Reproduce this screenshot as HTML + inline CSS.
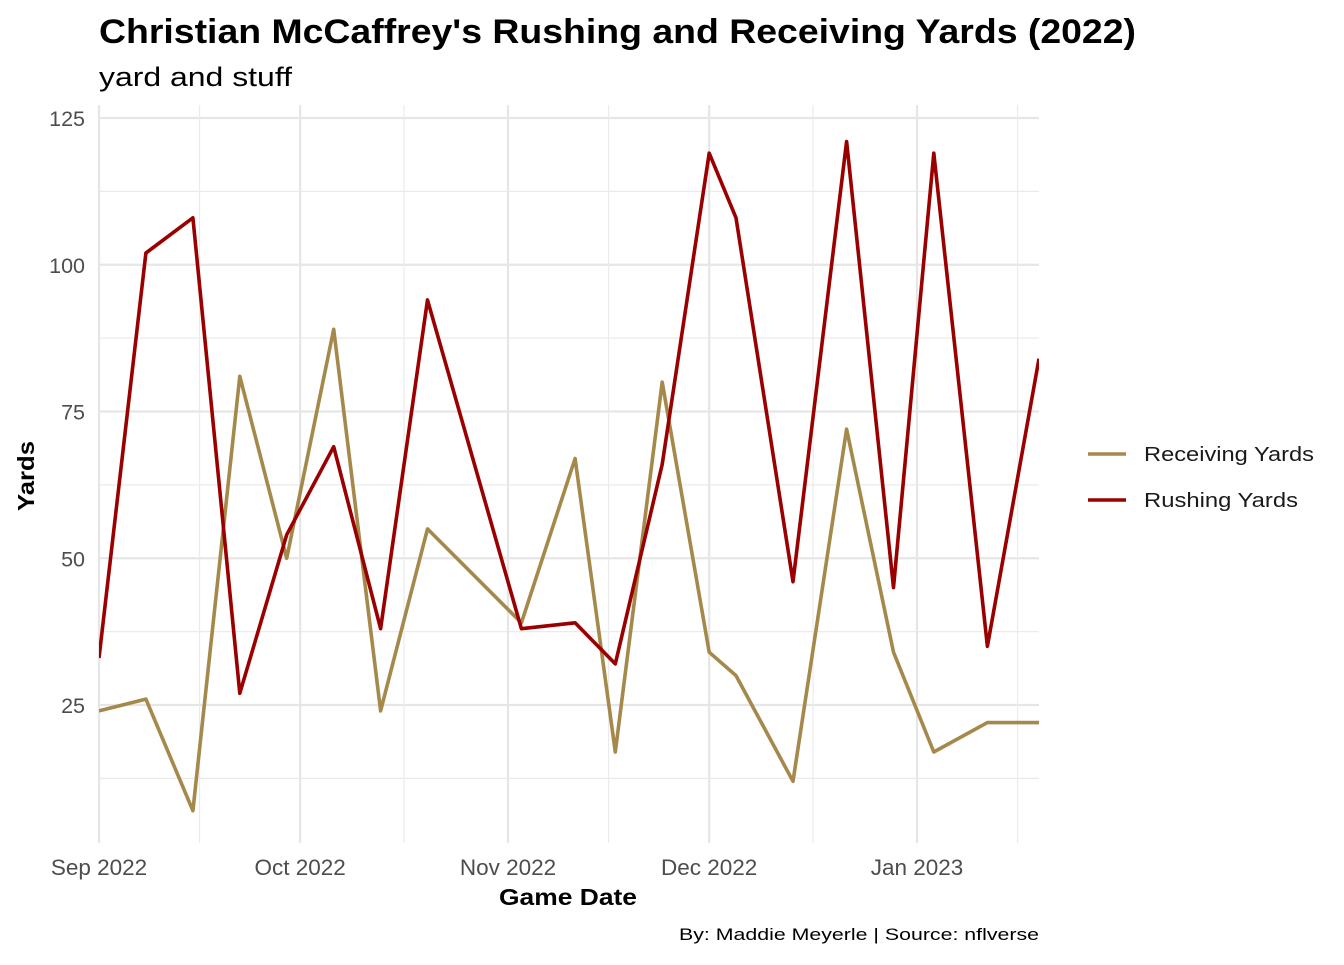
<!DOCTYPE html>
<html><head><meta charset="utf-8"><style>
body{margin:0;background:#fff;font-family:"Liberation Sans",Arial,sans-serif;}
svg text{font-family:"Liberation Sans",Arial,sans-serif;}
</style></head><body>
<svg id="chart" width="1344" height="960" xmlns="http://www.w3.org/2000/svg">
<text x="99" y="43" font-size="34" font-weight="bold" fill="#000" textLength="1037" lengthAdjust="spacingAndGlyphs">Christian McCaffrey's Rushing and Receiving Yards (2022)</text>
<text x="99" y="86" font-size="27" fill="#000" textLength="193" lengthAdjust="spacingAndGlyphs">yard and stuff</text>
<defs><clipPath id="pc"><rect x="99" y="100" width="940" height="745"/></clipPath></defs>
<g id="grid"></g>
<g id="axes"></g>
<g id="lines" clip-path="url(#pc)"></g>
<text x="568" y="905" font-size="23" font-weight="bold" text-anchor="middle" textLength="138" lengthAdjust="spacingAndGlyphs">Game Date</text>
<text transform="translate(34,476) rotate(-90)" font-size="23" font-weight="bold" text-anchor="middle" textLength="70" lengthAdjust="spacingAndGlyphs">Yards</text>
<text x="1039" y="940" font-size="17" text-anchor="end" textLength="360" lengthAdjust="spacingAndGlyphs">By: Maddie Meyerle | Source: nflverse</text>
<g>
<g>
<line x1="1088" y1="454" x2="1126" y2="454" stroke="#A5894B" stroke-width="3.5"/>
<text x="1144" y="461" font-size="20" fill="#1a1a1a" textLength="170" lengthAdjust="spacingAndGlyphs">Receiving Yards</text></g>
<g>
<line x1="1088" y1="500" x2="1126" y2="500" stroke="#9B0000" stroke-width="3.5"/>
<text x="1144" y="507" font-size="20" fill="#1a1a1a" textLength="154" lengthAdjust="spacingAndGlyphs">Rushing Yards</text></g>
</g>
</svg>
<script>
const gameDays = [0,7,14,21,28,35,42,49,63,71,77,84,91,95,103.5,111.5,118.5,124.5,132.5,140.2];
const rushingYards = [33,102,108,27,54,69,38,94,38,39,32,66,119,108,46,121,45,119,35,84];
const receivingYards = [24,26,7,81,50,89,24,55,39,67,17,80,34,30,12,72,34,17,22,22];
const yTicks = [25,50,75,100,125];
const xTickLabels = ["Sep 2022","Oct 2022","Nov 2022","Dec 2022","Jan 2023"];
const xTickDays = [0,30,61,91,122];
const xMinorDays = [15,45.5,76,106.5,137];

const svgNS="http://www.w3.org/2000/svg";
const X0=99,PX_PER_DAY=6.705;
const xs=d=>X0+d*PX_PER_DAY;
const ys=v=>851.75-v*5.87;
const gridG=document.getElementById('grid'),axesG=document.getElementById('axes'),linesG=document.getElementById('lines');
function mk(tag,attrs,parent){const e=document.createElementNS(svgNS,tag);for(const k in attrs)e.setAttribute(k,attrs[k]);parent.appendChild(e);return e;}
const plotTop=105,plotBot=843;
yTicks.forEach(v=>{
  const m=mk('line',{x1:99,x2:1039,y1:ys(v-12.5),y2:ys(v-12.5),stroke:'#ebebeb','stroke-width':1.2},gridG);
  
  
  const g=mk('line',{x1:99,x2:1039,y1:ys(v),y2:ys(v),stroke:'#e6e6e6','stroke-width':2.2},gridG);
  
  
  const t=mk('text',{x:85,y:ys(v)+8,'font-size':21.5,fill:'#4d4d4d','text-anchor':'end'},axesG);
  t.textContent=v;
  
  
});
const m0=mk('line',{x1:99,x2:1039,y1:ys(12.5),y2:ys(12.5),stroke:'#ebebeb','stroke-width':1.2},gridG);


xMinorDays.forEach(d=>{
  const g=mk('line',{x1:xs(d),x2:xs(d),y1:plotTop,y2:plotBot,stroke:'#ebebeb','stroke-width':1.2},gridG);
  
  
});
xTickDays.forEach((d,i)=>{
  const g=mk('line',{x1:xs(d),x2:xs(d),y1:plotTop,y2:plotBot,stroke:'#e6e6e6','stroke-width':2.2},gridG);
  
  
  const t=mk('text',{x:xs(d),y:875,'font-size':22.5,fill:'#4d4d4d','text-anchor':'middle'},axesG);
  t.textContent=xTickLabels[i];
  
  
});
function drawPath(vals,color,name){
  const d=vals.map((v,i)=>(i?'L':'M')+xs(gameDays[i]).toFixed(1)+' '+ys(v).toFixed(1)).join(' ');
  const p=mk('path',{d:d,fill:'none',stroke:color,'stroke-width':3.6,'stroke-linejoin':'round'},linesG);
  
  
}
drawPath(receivingYards,'#A5894B','receiving-yards-line');
drawPath(rushingYards,'#9B0000','rushing-yards-line');
</script>
</body></html>
